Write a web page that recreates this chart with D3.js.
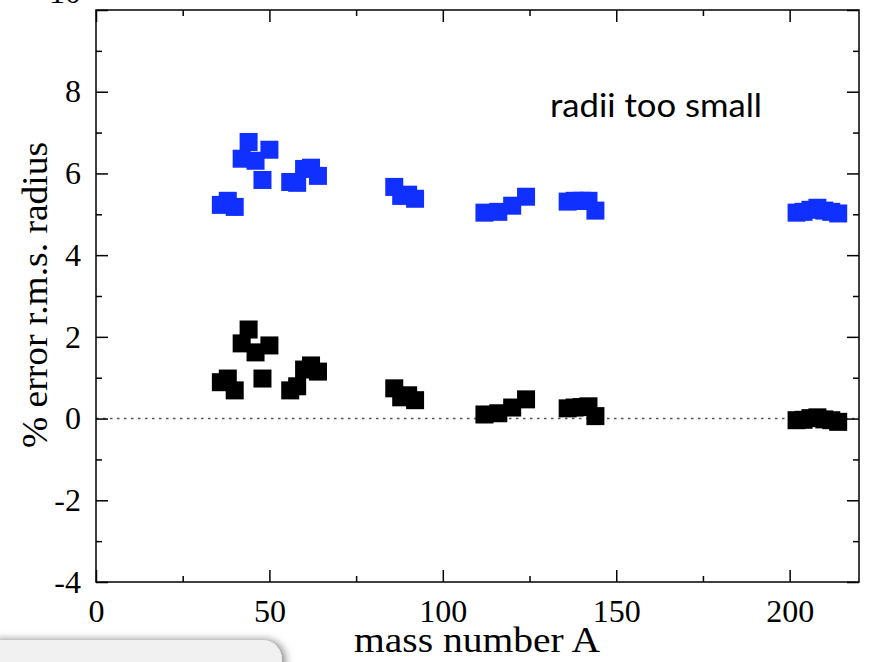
<!DOCTYPE html>
<html>
<head>
<meta charset="utf-8">
<script src="https://cdn.jsdelivr.net/npm/d3@7"></script>
<style>
  html, body { margin: 0; padding: 0; background: #fff; }
  svg { display: block; }
</style>
</head>
<body>
<script>
// ---- data ----
const massA = [36, 38, 40, 42, 44, 46, 48, 50, 56, 58, 60, 62, 64,
               86, 88, 90, 92, 112, 116, 120, 124,
               136, 138, 140, 142, 144,
               202, 204, 206, 208, 210, 212, 214];
const errSmall = [5.23, 5.33, 5.18, 6.36, 6.77, 6.31, 5.84, 6.58, 5.79, 5.77, 6.11, 6.14, 5.94,
                  5.67, 5.45, 5.48, 5.38, 5.04, 5.06, 5.21, 5.43,
                  5.31, 5.33, 5.33, 5.33, 5.09,
                  5.04, 5.06, 5.11, 5.16, 5.09, 5.06, 5.02];
const errFit = [0.89, 0.98, 0.69, 1.84, 2.18, 1.62, 0.98, 1.79, 0.69, 0.79, 1.20, 1.30, 1.15,
                0.74, 0.52, 0.57, 0.45, 0.10, 0.13, 0.27, 0.47,
                0.25, 0.27, 0.28, 0.30, 0.06,
                -0.04, -0.03, 0.01, 0.03, -0.02, -0.04, -0.08];
const xMajor = [0, 50, 100, 150, 200];
const xMinor = [25, 75, 125, 175];
const yMajor = [-4, -2, 0, 2, 4, 6, 8, 10];
const yMinor = [-3, -1, 1, 3, 5, 7, 9];
const xTitle = "mass number A";
const yTitle = "% error r.m.s. radius";
const note = "radii too small";

// ---- layout ----
const W = 873, H = 662;
const L = 96, R = 859, T = 10, B = 582;
const svg = d3.select("body").append("svg").attr("width", W).attr("height", H);

const x = d3.scaleLinear().domain([0, 220]).range([L, R]);
const y = d3.scaleLinear().domain([-4, 10]).range([B, T]);

const serif = "'Liberation Serif', 'Times New Roman', serif";
const tickFont = 32;
const fmt = d => String(d); // plain hyphen for negatives, as in the reference

// zero line
svg.append("line")
  .attr("x1", x(0)).attr("x2", x(220)).attr("y1", y(0)).attr("y2", y(0))
  .attr("stroke", "#555").attr("stroke-width", 1.5).attr("stroke-dasharray", "2.5,4.5");

// markers
const sz = 18;
function squares(vals, color) {
  svg.append("g").selectAll("rect").data(massA.map((a, i) => [a, vals[i]])).join("rect")
    .attr("x", d => x(d[0]) - sz / 2).attr("y", d => y(d[1]) - sz / 2)
    .attr("width", sz).attr("height", sz).attr("fill", color);
}
squares(errSmall, "#0f30ff");
squares(errFit, "#000");

// axes
function styleAxis(g, showText) {
  g.select(".domain").remove();
  g.selectAll(".tick line").attr("stroke", "#000").attr("stroke-width", 1.5);
  g.selectAll("text").attr("font-family", serif).attr("font-size", tickFont).attr("fill", "#000");
  if (!showText) g.selectAll("text").remove();
}
const gB = svg.append("g").attr("transform", `translate(0,${B})`)
  .call(d3.axisBottom(x).tickValues(xMajor).tickSize(-12).tickPadding(17).tickFormat(fmt));
styleAxis(gB, true);
const gBm = svg.append("g").attr("transform", `translate(0,${B})`)
  .call(d3.axisBottom(x).tickValues(xMinor).tickSize(-6));
styleAxis(gBm, false);
const gT = svg.append("g").attr("transform", `translate(0,${T})`)
  .call(d3.axisTop(x).tickValues(xMajor).tickSize(-12));
styleAxis(gT, false);
const gTm = svg.append("g").attr("transform", `translate(0,${T})`)
  .call(d3.axisTop(x).tickValues(xMinor).tickSize(-6));
styleAxis(gTm, false);

const gL = svg.append("g").attr("transform", `translate(${L},0)`)
  .call(d3.axisLeft(y).tickValues(yMajor).tickSize(-12).tickPadding(15).tickFormat(fmt));
styleAxis(gL, true);
gL.selectAll(".tick").filter(d => d === 10).select("text").attr("dy", 0).attr("y", -8);
const gLm = svg.append("g").attr("transform", `translate(${L},0)`)
  .call(d3.axisLeft(y).tickValues(yMinor).tickSize(-6));
styleAxis(gLm, false);
const gR = svg.append("g").attr("transform", `translate(${R},0)`)
  .call(d3.axisRight(y).tickValues(yMajor).tickSize(-12));
styleAxis(gR, false);
const gRm = svg.append("g").attr("transform", `translate(${R},0)`)
  .call(d3.axisRight(y).tickValues(yMinor).tickSize(-6));
styleAxis(gRm, false);

// frame
svg.append("rect").attr("x", L).attr("y", T).attr("width", R - L).attr("height", B - T)
  .attr("fill", "none").attr("stroke", "#000").attr("stroke-width", 1.5);

// titles
svg.append("text").attr("x", 477).attr("y", 652)
  .attr("text-anchor", "middle").attr("font-family", serif).attr("font-size", 36)
  .attr("textLength", 246).attr("lengthAdjust", "spacingAndGlyphs")
  .text(xTitle);
svg.append("text").attr("transform", `translate(47,295) rotate(-90)`)
  .attr("text-anchor", "middle").attr("font-family", serif).attr("font-size", 35)
  .attr("textLength", 306).attr("lengthAdjust", "spacingAndGlyphs")
  .text(yTitle);
svg.append("text").attr("x", 550).attr("y", 117)
  .attr("font-family", "Lato, 'Open Sans', sans-serif").attr("font-size", 33)
  .attr("textLength", 212).attr("lengthAdjust", "spacingAndGlyphs")
  .text(note);

// bottom-left overlay panel
const defs = svg.append("defs");
const f = defs.append("filter").attr("id", "sh").attr("x", "-20%").attr("y", "-50%").attr("width", "140%").attr("height", "200%");
f.append("feGaussianBlur").attr("in", "SourceAlpha").attr("stdDeviation", 4).attr("result", "b");
f.append("feOffset").attr("in", "b").attr("dx", 3).attr("dy", 0).attr("result", "o");
f.append("feComponentTransfer").attr("in", "o").attr("result", "o2")
  .append("feFuncA").attr("type", "linear").attr("slope", 0.5);
const m = f.append("feMerge");
m.append("feMergeNode").attr("in", "o2");
m.append("feMergeNode").attr("in", "SourceGraphic");
svg.append("rect").attr("x", -20).attr("y", 640).attr("width", 302).attr("height", 50)
  .attr("rx", 20).attr("fill", "#f1f1f1").attr("filter", "url(#sh)");
</script>
</body>
</html>
